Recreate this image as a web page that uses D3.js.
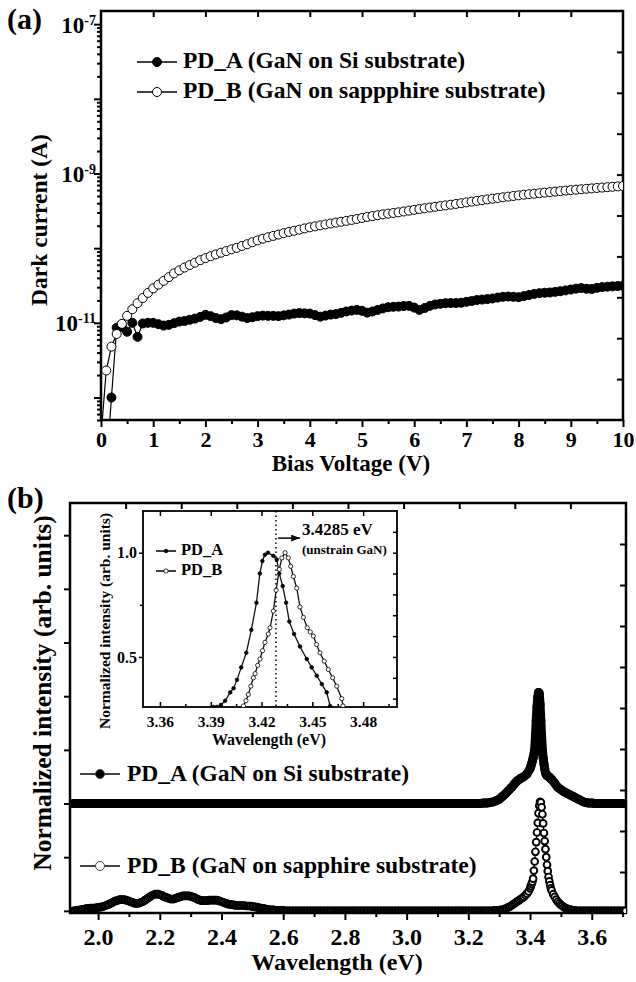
<!DOCTYPE html>
<html>
<head>
<meta charset="utf-8">
<script src="https://cdn.jsdelivr.net/npm/d3@7"></script>
<style>
body { margin: 0; background: #fff; }
text { font-family: "Liberation Serif", "Times New Roman", serif; font-weight: bold; fill: #000; }
</style>
</head>
<body>
<svg id="fig" width="636" height="982"></svg>
<script>
// ---------- (a) dark current, in pA, bias from 0 V in 0.1 V steps ----------
var biasStart = 0, biasStep = 0.1;
var darkA = [
  0.01, 0.1, 1.0, 8.6, 8.8, 7.6, 10.0, 6.5, 9.8, 10.0,
  10.0, 9.6, 9.2, 9.4, 9.9, 10.4, 10.6, 11.0, 11.4, 12.0,
  12.8, 12.3, 11.6, 11.2, 11.8, 12.7, 12.6, 12.1, 11.6, 11.9,
  12.3, 12.5, 12.4, 12.4, 12.3, 12.6, 12.9, 13.3, 13.5, 13.4,
  13.3, 12.7, 12.1, 12.5, 12.9, 13.1, 13.6, 14.2, 14.6, 14.9,
  14.5, 13.7, 14.2, 14.9, 15.6, 16.2, 16.4, 16.5, 16.8, 16.9,
  16.0, 14.9, 15.8, 16.9, 17.6, 18.0, 18.3, 18.4, 18.4, 18.6,
  19.1, 19.6, 20.2, 20.5, 20.8, 21.2, 21.8, 22.3, 22.5, 22.3,
  22.1, 22.8, 23.6, 24.4, 25.0, 25.3, 25.5, 26.0, 26.5, 27.2,
  27.9, 28.7, 29.2, 28.6, 28.4, 29.4, 30.1, 30.5, 30.8, 31.1,
  31.4
];
var darkB = [
  0.3, 2.3, 4.8, 7.1, 9.7, 12.4, 15.2, 18.3, 21.5, 25.2,
  29, 32.5, 36.5, 41, 46, 50.5, 55, 59.5, 64, 69,
  73.5, 78, 82.5, 87, 91.5, 96.5, 101, 107, 113, 120,
  127, 134, 140, 146, 152, 159, 165, 171, 177, 184,
  190, 196, 202, 208, 214, 220, 226, 232, 239, 246,
  254, 262, 269, 276, 284, 290, 296, 302, 310, 318,
  326, 334, 342, 350, 358, 366, 374, 382, 391, 400,
  410, 420, 430, 440, 450, 460, 470, 480, 490, 500,
  510, 520, 528, 536, 545, 554, 563, 572, 581, 590,
  599, 607, 616, 624, 632, 640, 648, 656, 664, 672,
  680
];
var biasTicks = [0, 1, 2, 3, 4, 5, 6, 7, 8, 9, 10];
var currentLabelExp = [-7, -9, -11];
var legendA = ["PD_A (GaN on Si substrate)", "PD_B (GaN on sappphire substrate)"];

// ---------- (b) PL spectra, both starting at 1.92 eV, stacked ----------
var specStart = 1.92;
var specStepA = 0.01;
var specA = [
  0,0,0,0,0,0,0,0,0,0,
  0,0,0,0,0,0,0,0,0,0,
  0,0,0,0,0,0,0,0,0,0,
  0,0,0,0,0,0,0,0,0,0,
  0,0,0,0,0,0,0,0,0,0,
  0,0,0,0,0,0,0,0,0,0,
  0,0,0,0,0,0,0,0,0,0,
  0,0,0,0,0,0,0,0,0,0,
  0,0,0,0,0,0,0,0,0,0,
  0,0,0,0,0,0,0,0,0,0,
  0,0,0,0,0,0,0,0,0,0,
  0,0,0,0,0,0,0,0,0,0,
  0,0,0,0,0,0,0,0,0,0,
  0, 0, 0, 0.01, 0.01, 0.02, 0.03, 0.05, 0.08, 0.13,
  0.18, 0.24, 0.30, 0.37, 0.43, 0.47, 0.50, 0.55, 0.65, 0.85,
  1.55, 2.05, 1.00, 0.57, 0.50, 0.45, 0.38, 0.30, 0.26, 0.22,
  0.19, 0.16, 0.13, 0.10, 0.07, 0.04, 0.02, 0.01, 0.01, 0,
  0,0,0,0,0,0,0,0,0,0
];
var specStepB = 0.005;
var specB = [
  0.00, 0.00, 0.01, 0.01, 0.02, 0.02, 0.03, 0.03, 0.04, 0.04, 0.04, 0.05, 0.05, 0.05, 0.05, 0.06, 0.06, 0.07, 0.07, 0.08,
  0.09, 0.10, 0.11, 0.12, 0.14, 0.15, 0.17, 0.18, 0.19, 0.20, 0.21, 0.21, 0.21, 0.21, 0.20, 0.19, 0.18, 0.17, 0.16, 0.15,
  0.14, 0.14, 0.14, 0.15, 0.16, 0.17, 0.19, 0.21, 0.23, 0.25, 0.27, 0.29, 0.30, 0.31, 0.31, 0.31, 0.30, 0.29, 0.28, 0.26,
  0.25, 0.24, 0.23, 0.22, 0.22, 0.22, 0.23, 0.24, 0.25, 0.26, 0.27, 0.28, 0.28, 0.28, 0.28, 0.28, 0.27, 0.26, 0.25, 0.24,
  0.22, 0.21, 0.20, 0.19, 0.19, 0.19, 0.19, 0.19, 0.20, 0.20, 0.20, 0.20, 0.20, 0.20, 0.19, 0.18, 0.17, 0.16, 0.15, 0.14,
  0.13, 0.12, 0.12, 0.11, 0.11, 0.10, 0.10, 0.10, 0.10, 0.10, 0.10, 0.10, 0.09, 0.09, 0.09, 0.09, 0.08, 0.08, 0.07, 0.07,
  0.06, 0.05, 0.05, 0.04, 0.04, 0.03, 0.03, 0.02, 0.02, 0.02, 0.02, 0.01, 0.01, 0.01, 0.01, 0.01, 0.01, 0, 0, 0,
  0,0,0,0,0,0,0,0,0,0,0,0,0,0,0,0,0,0,0,0,
  0,0,0,0,0,0,0,0,0,0,0,0,0,0,0,0,0,0,0,0,
  0,0,0,0,0,0,0,0,0,0,0,0,0,0,0,0,0,0,0,0,
  0,0,0,0,0,0,0,0,0,0,0,0,0,0,0,0,0,0,0,0,
  0,0,0,0,0,0,0,0,0,0,0,0,0,0,0,0,0,0,0,0,
  0,0,0,0,0,0,0,0,0,0,0,0,0,0,0,0,0,0,0,0,
  0, 0, 0, 0, 0, 0, 0, 0, 0, 0, 0, 0, 0, 0.01, 0.01, 0.01, 0.01, 0.02, 0.02, 0.03,
  0.04, 0.05, 0.07, 0.08, 0.10, 0.12, 0.14, 0.16, 0.18, 0.20, 0.22, 0.24, 0.26, 0.29, 0.32, 0.36, 0.42, 0.50, 0.60, 0.92,
  1.28, 1.64, 1.96, 2.02, 1.80, 1.45, 1.15, 0.86, 0.63, 0.48, 0.38, 0.31, 0.26, 0.21, 0.17, 0.14, 0.11, 0.09, 0.07, 0.05,
  0.04, 0.03, 0.02, 0.02, 0.01, 0.01, 0,0,0,0,0,0,0,0,0,0,0,0,0,0,
  0,0,0,0,0,0,0,0,0,0,0,0,0,0,0,0,0,0,0
];
// extra points measured around the band-edge peak
var peakEA = [3.4025, 3.405, 3.4075, 3.4125, 3.415, 3.4175, 3.4225, 3.425, 3.4275, 3.4325, 3.435,
              3.4375, 3.4425, 3.445, 3.4475, 3.4525, 3.455, 3.4575, 3.4625, 3.465, 3.4675];
var peakA  = [0.69, 0.74, 0.79, 0.92, 1.00, 1.25, 1.80, 1.98, 2.07, 1.85, 1.55,
              1.25, 0.85, 0.74, 0.65, 0.54, 0.52, 0.51, 0.49, 0.48, 0.46];
var peakEB = [3.4025, 3.4075, 3.4125, 3.4175, 3.4225, 3.4275, 3.4325,
              3.4375, 3.4425, 3.4475, 3.4525, 3.4575, 3.4625, 3.4675];
var peakB  = [0.46, 0.54, 0.75, 1.10, 1.46, 1.82, 2.03,
              1.93, 1.63, 1.30, 1.00, 0.74, 0.55, 0.42];
var offsetA = 2, offsetB = 0;
var specTicks = [2.0, 2.2, 2.4, 2.6, 2.8, 3.0, 3.2, 3.4, 3.6];
var legendB = ["PD_A (GaN on Si substrate)", "PD_B (GaN on sapphire substrate)"];

// ---------- (b) inset, normalized ----------
var insetEA = [3.3915, 3.3935, 3.396, 3.3985, 3.4015, 3.4035, 3.4055, 3.408, 3.411, 3.414, 3.417, 3.419,
               3.4205, 3.422, 3.4238, 3.427, 3.429, 3.4305, 3.4325, 3.4345, 3.4364, 3.4392, 3.4427,
               3.4467, 3.4496, 3.4526, 3.4556, 3.4585, 3.4605];
var insetIA = [0.26, 0.26, 0.27, 0.29, 0.33, 0.35, 0.39, 0.45, 0.52, 0.63, 0.76, 0.90,
               0.96, 0.99, 1.00, 0.985, 0.967, 0.90, 0.84, 0.76, 0.67, 0.61, 0.55,
               0.49, 0.45, 0.41, 0.37, 0.33, 0.265];
var insetEB = [3.4093, 3.4108, 3.4122, 3.4137, 3.4152, 3.4162, 3.4177, 3.4191, 3.4206, 3.422, 3.424, 3.425,
               3.427, 3.4286, 3.4305, 3.432, 3.4339, 3.4358, 3.4372, 3.4388, 3.4408, 3.4427, 3.4447,
               3.447, 3.4488, 3.4506, 3.4525, 3.4545, 3.457, 3.4594, 3.462, 3.4644, 3.4674, 3.4681];
var insetIB = [0.265, 0.29, 0.32, 0.36, 0.40, 0.42, 0.46, 0.49, 0.53, 0.57, 0.61, 0.64,
               0.72, 0.82, 0.92, 0.975, 1.0, 0.975, 0.935, 0.886, 0.83, 0.74, 0.69,
               0.64, 0.62, 0.60, 0.56, 0.52, 0.48, 0.44, 0.40, 0.36, 0.30, 0.265];
var insetTicks = [3.36, 3.39, 3.42, 3.45, 3.48];
var insetYTicks = [0.5, 1.0];
var unstrainE = 3.4285;

var svg = d3.select("#fig");
var serif = '"Liberation Serif", "Times New Roman", serif';

function cleanAxis(g, size) {
    g.select(".domain").remove();
    g.selectAll(".tick line").attr("stroke", "#000").attr("stroke-width", 2);
    g.attr("font-family", serif).attr("font-size", size).attr("font-weight", "bold");
    g.selectAll(".tick text").attr("fill", "#000");
}

function frame(g, b, w) {
    g.append("rect")
        .attr("x", b.l).attr("y", b.t)
        .attr("width", b.r - b.l).attr("height", b.b - b.t)
        .attr("fill", "none").attr("stroke", "#000").attr("stroke-width", w);
}

function clip(id, b) {
    svg.append("clipPath").attr("id", id).append("rect")
        .attr("x", b.l).attr("y", b.t).attr("width", b.r - b.l).attr("height", b.b - b.t);
}

// ================= panel (a) =================
var A = {l: 101, r: 623, t: 11, b: 420};
var xA = d3.scaleLinear().domain([0, 10]).range([A.l, A.r]);
var yA = d3.scaleLog().domain([0.5, 1.5e5]).range([A.b, A.t]);   // pA
var gA = svg.append("g");
clip("clipA", A);

gA.append("g").attr("transform", "translate(0," + A.b + ")")
    .call(d3.axisBottom(xA).tickValues(biasTicks).tickSize(7).tickPadding(4).tickFormat(d3.format("d")))
    .call(cleanAxis, 22);
gA.append("g").attr("transform", "translate(0," + A.b + ")")
    .call(d3.axisBottom(xA).tickValues(d3.range(0.5, 10, 1)).tickSize(4).tickFormat(""))
    .call(cleanAxis, 10);

var majorsA = d3.range(0, 6).map(function (k) { return Math.pow(10, k); });
var minorsA = [];
d3.range(-1, 6).forEach(function (k) {
    d3.range(2, 10).forEach(function (m) {
        var v = m * Math.pow(10, k);
        if (v >= 0.5 && v <= 1.5e5) minorsA.push(v);
    });
});
var yAxisA = gA.append("g").attr("transform", "translate(" + A.l + ",0)")
    .call(d3.axisLeft(yA).tickValues(majorsA).tickSize(7).tickFormat(""))
    .call(cleanAxis, 23);
gA.append("g").attr("transform", "translate(" + A.l + ",0)")
    .call(d3.axisLeft(yA).tickValues(minorsA).tickSize(4).tickFormat(""))
    .call(cleanAxis, 10);
yAxisA.selectAll(".tick").each(function (d) {
    var e = Math.round(Math.log10(d)) - 12;
    if (currentLabelExp.indexOf(e) < 0) return;
    var t = d3.select(this).append("text")
        .attr("x", -5).attr("y", 8).attr("text-anchor", "end");
    t.append("tspan").text("10");
    t.append("tspan").attr("dy", -8).attr("font-size", 14).text("-" + Math.abs(e));
});

gA.append("g").attr("transform", "translate(0," + A.t + ")")
    .call(d3.axisTop(xA).tickValues(d3.range(1, 10)).tickSize(-6).tickFormat(""))
    .call(cleanAxis, 10);
var rightA = d3.scaleLinear().domain([0, 10]).range([A.b, A.t]);
gA.append("g").attr("transform", "translate(" + A.r + ",0)")
    .call(d3.axisRight(rightA).tickValues(d3.range(1, 10)).tickSize(-6).tickFormat(""))
    .call(cleanAxis, 10);

frame(gA, A, 2.5);

var seriesA = [
    {vals: darkA, fill: "#000"},
    {vals: darkB, fill: "#fff"}
];
var lineA = d3.line().x(function (d) { return xA(d.x); }).y(function (d) { return yA(d.y); });
var plotA = gA.append("g").attr("clip-path", "url(#clipA)");
seriesA.forEach(function (s) {
    var pts = s.vals.map(function (v, i) { return {x: biasStart + i * biasStep, y: v}; });
    plotA.append("path").datum(pts).attr("d", lineA)
        .attr("fill", "none").attr("stroke", "#000").attr("stroke-width", 1.2);
    plotA.append("g").selectAll("circle").data(pts).join("circle")
        .attr("cx", function (d) { return xA(d.x); })
        .attr("cy", function (d) { return yA(d.y); })
        .attr("r", 4.5)
        .attr("fill", s.fill).attr("stroke", "#000").attr("stroke-width", 1);
});

legendA.forEach(function (name, i) {
    var y = 62 + i * 30;
    gA.append("line").attr("x1", 137).attr("x2", 177).attr("y1", y).attr("y2", y)
        .attr("stroke", "#000").attr("stroke-width", 1.5);
    gA.append("circle").attr("cx", 157).attr("cy", y).attr("r", 4.5)
        .attr("fill", i === 0 ? "#000" : "#fff").attr("stroke", "#000").attr("stroke-width", 1);
    gA.append("text").attr("x", 183).attr("y", y + 6).attr("font-size", 23.5).text(name);
});

gA.append("text").attr("x", 351).attr("y", 471).attr("text-anchor", "middle")
    .attr("font-size", 23).text("Bias Voltage (V)");
gA.append("text").attr("transform", "translate(47,220) rotate(-90)").attr("text-anchor", "middle")
    .attr("font-size", 23.5).text("Dark current (A)");
gA.append("text").attr("x", 7).attr("y", 29).attr("font-size", 30).text("(a)");

// ================= panel (b) =================
var B = {l: 70, r: 626, t: 503, b: 913};
var xB = d3.scaleLinear().domain([1.909, 3.711]).range([B.l, B.r]);
var yB = d3.scaleLinear().domain([-0.04, 7.6]).range([B.b, B.t]);
var gB = svg.append("g");
clip("clipB", B);

gB.append("g").attr("transform", "translate(0," + B.b + ")")
    .call(d3.axisBottom(xB).tickValues(specTicks).tickSize(7).tickPadding(8).tickFormat(d3.format(".1f")))
    .call(cleanAxis, 24);
gB.append("g").attr("transform", "translate(0," + B.b + ")")
    .call(d3.axisBottom(xB).tickValues(d3.range(2.1, 3.75, 0.2)).tickSize(4).tickFormat(""))
    .call(cleanAxis, 10);
gB.append("g").attr("transform", "translate(" + B.l + ",0)")
    .call(d3.axisLeft(yB).tickValues(d3.range(0, 8)).tickSize(6).tickFormat(""))
    .call(cleanAxis, 10);
var topB = d3.scaleLinear().domain([0, 10]).range([B.l, B.r]);
gB.append("g").attr("transform", "translate(0," + B.t + ")")
    .call(d3.axisTop(topB).tickValues(d3.range(1, 10)).tickSize(-6).tickFormat(""))
    .call(cleanAxis, 10);
var rightB = d3.scaleLinear().domain([0, 10]).range([B.b, B.t]);
gB.append("g").attr("transform", "translate(" + B.r + ",0)")
    .call(d3.axisRight(rightB).tickValues(d3.range(1, 10)).tickSize(-6).tickFormat(""))
    .call(cleanAxis, 10);
frame(gB, B, 2.5);

function spectrum(grid, step, pe, pv, offset) {
    var pts = grid.map(function (v, i) { return {e: specStart + i * step, v: v + offset}; });
    pe.forEach(function (e, i) { pts.push({e: e, v: pv[i] + offset}); });
    pts.sort(function (a, b) { return a.e - b.e; });
    return pts;
}
var ptsA = spectrum(specA, specStepA, peakEA, peakA, offsetA);
var ptsB = spectrum(specB, specStepB, peakEB, peakB, offsetB);
var lineB = d3.line().x(function (d) { return xB(d.e); }).y(function (d) { return yB(d.v); });
var plotB = gB.append("g").attr("clip-path", "url(#clipB)");

// PD_A: solid markers, so dense they merge into one black band
plotB.append("path").datum(ptsA).attr("d", lineB)
    .attr("fill", "none").attr("stroke", "#000").attr("stroke-width", 9)
    .attr("stroke-linejoin", "round").attr("stroke-linecap", "round");
plotB.append("g").selectAll("circle").data(ptsA).join("circle")
    .attr("cx", function (d) { return xB(d.e); })
    .attr("cy", function (d) { return yB(d.v); })
    .attr("r", 4.5).attr("fill", "#000");

// PD_B: open markers
plotB.append("path").datum(ptsB).attr("d", lineB)
    .attr("fill", "none").attr("stroke", "#000").attr("stroke-width", 1.2);
plotB.append("g").selectAll("circle").data(ptsB).join("circle")
    .attr("cx", function (d) { return xB(d.e); })
    .attr("cy", function (d) { return yB(d.v); })
    .attr("r", 3.4)
    .attr("fill", "#fff").attr("stroke", "#000").attr("stroke-width", 1.9);

legendB.forEach(function (name, i) {
    var y = 774 + i * 92;
    gB.append("line").attr("x1", 80).attr("x2", 120).attr("y1", y).attr("y2", y)
        .attr("stroke", "#444").attr("stroke-width", 2);
    gB.append("circle").attr("cx", 100).attr("cy", y).attr("r", 4.5)
        .attr("fill", i === 0 ? "#000" : "#fff").attr("stroke", "#444").attr("stroke-width", 1);
    gB.append("text").attr("x", 127).attr("y", y + 7).attr("font-size", 23.5).text(name);
});

gB.append("text").attr("x", 337).attr("y", 970).attr("text-anchor", "middle")
    .attr("font-size", 24).text("Wavelength (eV)");
gB.append("text").attr("transform", "translate(51,693) rotate(-90)").attr("text-anchor", "middle")
    .attr("font-size", 25.5).text("Normalized intensity (arb. units)");
gB.append("text").attr("x", 7).attr("y", 508).attr("font-size", 30).text("(b)");

// ================= inset =================
var I = {l: 143, r: 397, t: 511, b: 707};
var xI = d3.scaleLinear().domain([3.35, 3.50]).range([I.l, I.r]);
var yI = d3.scaleLinear().domain([0.26, 1.2]).range([I.b, I.t]);
var gI = svg.append("g");
clip("clipI", I);

gI.append("rect").attr("x", I.l).attr("y", I.t).attr("width", I.r - I.l).attr("height", I.b - I.t)
    .attr("fill", "#fff");
gI.append("g").attr("transform", "translate(0," + I.b + ")")
    .call(d3.axisBottom(xI).tickValues(insetTicks).tickSize(-5).tickPadding(9).tickFormat(d3.format(".2f")))
    .call(cleanAxis, 15.5);
gI.append("g").attr("transform", "translate(0," + I.b + ")")
    .call(d3.axisBottom(xI).tickValues(d3.range(3.375, 3.5, 0.03)).tickSize(-3).tickFormat(""))
    .call(cleanAxis, 10);
gI.append("g").attr("transform", "translate(0," + I.t + ")")
    .call(d3.axisTop(xI).tickValues(insetTicks).tickSize(-5).tickFormat(""))
    .call(cleanAxis, 10);
gI.append("g").attr("transform", "translate(" + I.l + ",0)")
    .call(d3.axisLeft(yI).tickValues(insetYTicks).tickSize(4).tickPadding(2).tickFormat(d3.format(".1f")))
    .call(cleanAxis, 16);
gI.append("g").attr("transform", "translate(" + I.l + ",0)")
    .call(d3.axisLeft(yI).tickValues([0.75]).tickSize(3).tickFormat(""))
    .call(cleanAxis, 10);
gI.append("g").attr("transform", "translate(" + I.r + ",0)")
    .call(d3.axisRight(yI).tickValues(d3.range(0.3, 1.15, 0.1)).tickSize(-4).tickFormat(""))
    .call(cleanAxis, 10);
gI.selectAll(".tick line").attr("stroke-width", 1.5);
frame(gI, I, 1.8);

var plotI = gI.append("g").attr("clip-path", "url(#clipI)");
plotI.append("line")
    .attr("x1", xI(unstrainE)).attr("x2", xI(unstrainE))
    .attr("y1", I.t).attr("y2", I.b)
    .attr("stroke", "#000").attr("stroke-width", 1.5).attr("stroke-dasharray", "1.5,3");

var insetSeries = [
    {e: insetEA, v: insetIA, fill: "#000", r: 1.8},
    {e: insetEB, v: insetIB, fill: "#fff", r: 2.1}
];
var lineI = d3.line().x(function (d) { return xI(d.e); }).y(function (d) { return yI(d.v); });
insetSeries.forEach(function (s) {
    var pts = s.e.map(function (e, i) { return {e: e, v: s.v[i]}; });
    plotI.append("path").datum(pts).attr("d", lineI)
        .attr("fill", "none").attr("stroke", "#111").attr("stroke-width", 1.3);
    plotI.append("g").selectAll("circle").data(pts).join("circle")
        .attr("cx", function (d) { return xI(d.e); })
        .attr("cy", function (d) { return yI(d.v); })
        .attr("r", s.r)
        .attr("fill", s.fill).attr("stroke", "#000").attr("stroke-width", 0.8);
});

svg.append("defs").append("marker").attr("id", "arrow")
    .attr("viewBox", "0 0 10 8").attr("refX", 10).attr("refY", 4)
    .attr("markerWidth", 9).attr("markerHeight", 7).attr("markerUnits", "userSpaceOnUse")
    .attr("orient", "auto")
    .append("path").attr("d", "M0,0L10,4L0,8Z").attr("fill", "#000");
gI.append("line")
    .attr("x1", xI(unstrainE) + 2).attr("x2", xI(unstrainE) + 24)
    .attr("y1", yI(1.07)).attr("y2", yI(1.07))
    .attr("stroke", "#000").attr("stroke-width", 1.5).attr("marker-end", "url(#arrow)");
gI.append("text").attr("x", xI(unstrainE) + 26).attr("y", 535).attr("font-size", 17).text("3.4285 eV");
gI.append("text").attr("x", xI(unstrainE) + 26).attr("y", 554).attr("font-size", 13).text("(unstrain GaN)");

["PD_A", "PD_B"].forEach(function (name, i) {
    var y = 551 + i * 20;
    gI.append("line").attr("x1", 156).attr("x2", 176).attr("y1", y).attr("y2", y)
        .attr("stroke", "#000").attr("stroke-width", 1.5);
    gI.append("circle").attr("cx", 166).attr("cy", y).attr("r", i === 0 ? 1.8 : 2.1)
        .attr("fill", i === 0 ? "#000" : "#fff").attr("stroke", "#000").attr("stroke-width", 0.8);
    gI.append("text").attr("x", 181).attr("y", y + 4).attr("font-size", 16.5).text(name);
});

gI.append("text").attr("x", 269).attr("y", 745).attr("text-anchor", "middle")
    .attr("font-size", 16).text("Wavelength (eV)");
gI.append("text").attr("transform", "translate(110,621) rotate(-90)").attr("text-anchor", "middle")
    .attr("font-size", 15.5).text("Normalized intensity (arb. units)");
</script>
</body>
</html>
